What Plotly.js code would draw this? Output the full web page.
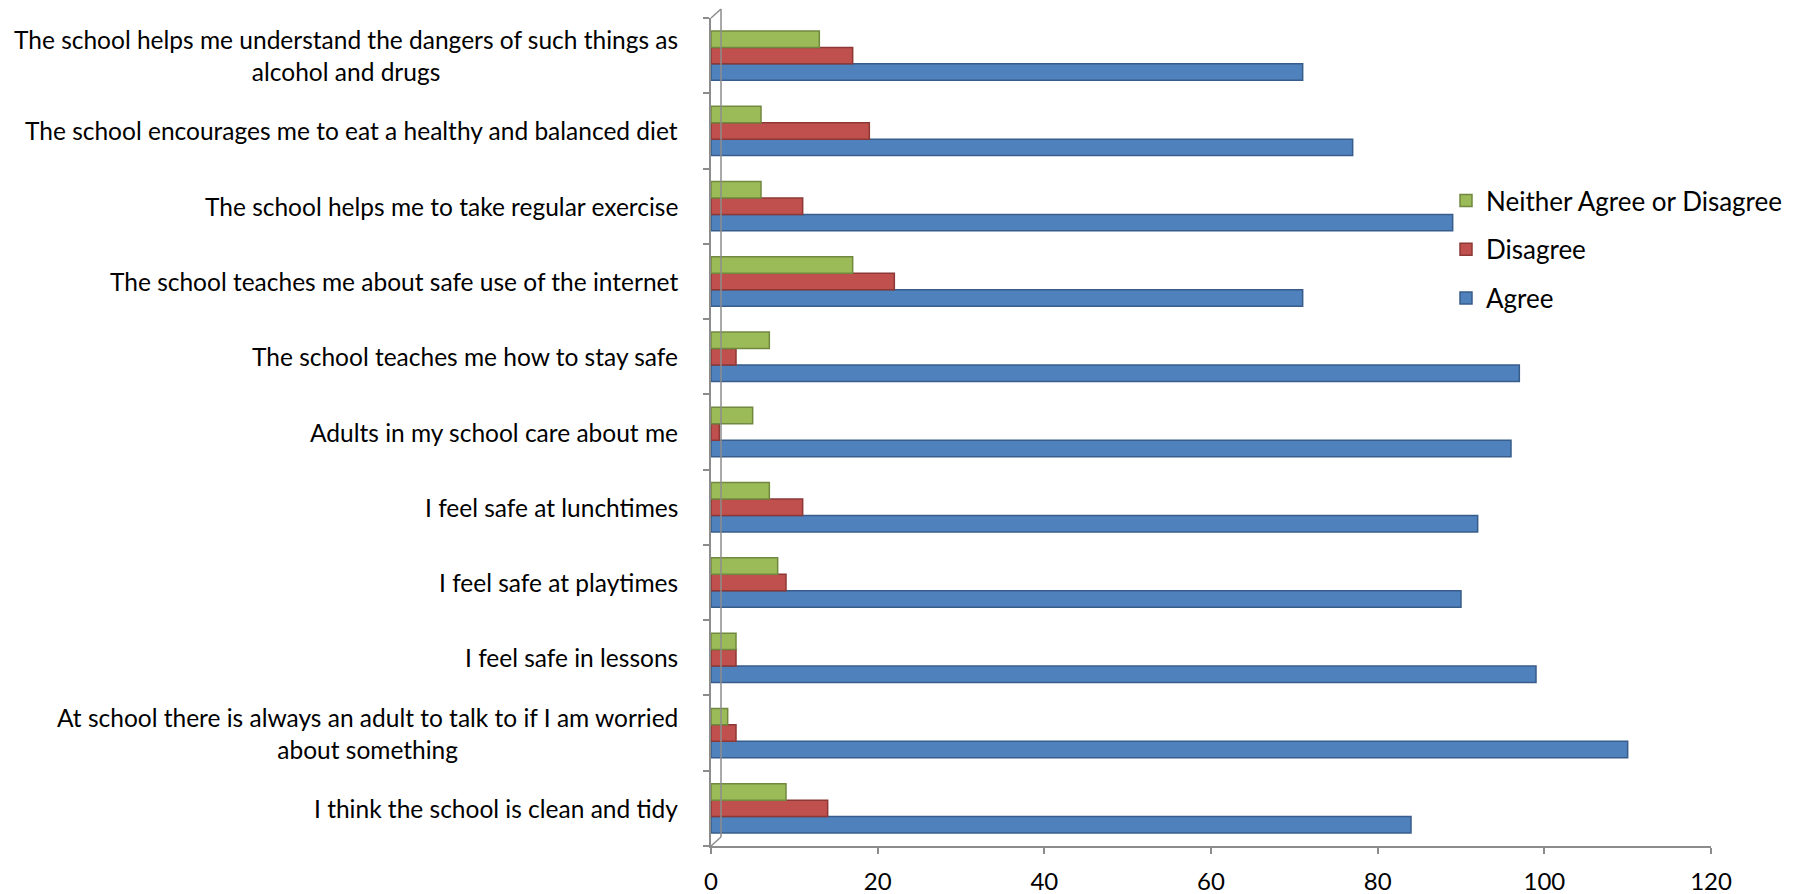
<!DOCTYPE html>
<html>
<head>
<meta charset="utf-8">
<script src="https://cdn.plot.ly/plotly-3.0.1.min.js"></script>
<style>
  html, body { margin: 0; padding: 0; background: #ffffff; }
  #chart { width: 1802px; height: 894px; }
</style>
</head>
<body>
<div id="chart"></div>
<script>
// Categories listed from the bottom of the chart to the top
const categories = [
  "I think the school is clean and tidy",
  "At school there is always an adult to talk to if I am worried<br>about something",
  "I feel safe in lessons",
  "I feel safe at playtimes",
  "I feel safe at lunchtimes",
  "Adults in my school care about me",
  "The school teaches me how to stay safe",
  "The school teaches me about safe use of the internet",
  "The school helps me to take regular exercise",
  "The school encourages me to eat a healthy and balanced diet",
  "The school helps me understand the dangers of such things as<br>alcohol and drugs"
];
const agree    = [84, 110, 99, 90, 92, 96, 97, 71, 89, 77, 71];
const disagree = [14,   3,  3,  9, 11,  1,  3, 22, 11, 19, 17];
const neither  = [ 9,   2,  3,  8,  7,  5,  7, 17,  6,  6, 13];
const seriesNames = ["Agree", "Disagree", "Neither Agree or Disagree"];
const xTicks = [0, 20, 40, 60, 80, 100, 120];

const FONT = "Lato, 'Open Sans', sans-serif";
const fills = ["#4F81BD", "#C0504D", "#9BBB59"];
const edges = ["#385D8A", "#8C3836", "#71893F"];
const values = [agree, disagree, neither];
const ranks = [3, 2, 1];

const traces = values.map((v, i) => ({
  type: "bar",
  orientation: "h",
  name: seriesNames[i],
  legendgroup: "g" + i,
  legendrank: ranks[i],
  x: v,
  y: categories,
  marker: { color: fills[i], line: { color: edges[i], width: 1.5 } },
  hoverinfo: "x+name"
}));

const annotations = categories.map(c => ({
  xref: "paper", yref: "y",
  x: 0, y: c,
  xanchor: "right", yanchor: "middle",
  xshift: -31,
  align: "center",
  showarrow: false,
  text: c,
  font: { family: FONT, size: 24.5, color: "#000000" }
}));

const wallColor = "#8C8C8C";
const shapes = [
  { type: "line", xref: "paper", yref: "paper", x0: 0.01, x1: 0.01, y0: 0.0109, y1: 1.0109,
    line: { color: wallColor, width: 1.5 } },
  { type: "line", xref: "paper", yref: "paper", x0: 0.01, x1: 0, y0: 0.0109, y1: 0,
    line: { color: wallColor, width: 1.5 } },
  { type: "line", xref: "paper", yref: "paper", x0: 0, x1: 0.01, y0: 1, y1: 1.0109,
    line: { color: wallColor, width: 1.5 } }
];

const layout = {
  width: 1802, height: 894,
  margin: { l: 711, r: 91, t: 18, b: 48 },
  paper_bgcolor: "#ffffff", plot_bgcolor: "#ffffff",
  font: { family: FONT, size: 24.5, color: "#000000" },
  barmode: "group",
  bargap: 0.344,
  bargroupgap: 0,
  showlegend: true,
  legend: {
    x: 0.735, y: 0.808, xanchor: "left", yanchor: "top",
    traceorder: "grouped",
    tracegroupgap: 12,
    font: { family: FONT, size: 26, color: "#000000" },
    bgcolor: "rgba(0,0,0,0)"
  },
  xaxis: {
    range: [0, 120],
    tickvals: xTicks,
    ticktext: xTicks.map(String),
    showgrid: false, zeroline: false,
    showline: true, linecolor: wallColor, linewidth: 1.5,
    ticks: "outside", ticklen: 6, tickcolor: wallColor, tickwidth: 1.5,
    ticklabelstandoff: 7,
    tickfont: { family: FONT, size: 24, color: "#000000" }
  },
  yaxis: {
    type: "category",
    categoryorder: "array",
    categoryarray: categories,
    showticklabels: false,
    showgrid: false, zeroline: false,
    showline: true, linecolor: wallColor, linewidth: 1.5,
    ticks: "outside", ticklen: 6, tickcolor: wallColor, tickwidth: 1.5,
    tickson: "boundaries"
  },
  annotations: annotations,
  shapes: shapes
};

Plotly.newPlot("chart", traces, layout, { displayModeBar: false, responsive: false });
</script>
</body>
</html>
